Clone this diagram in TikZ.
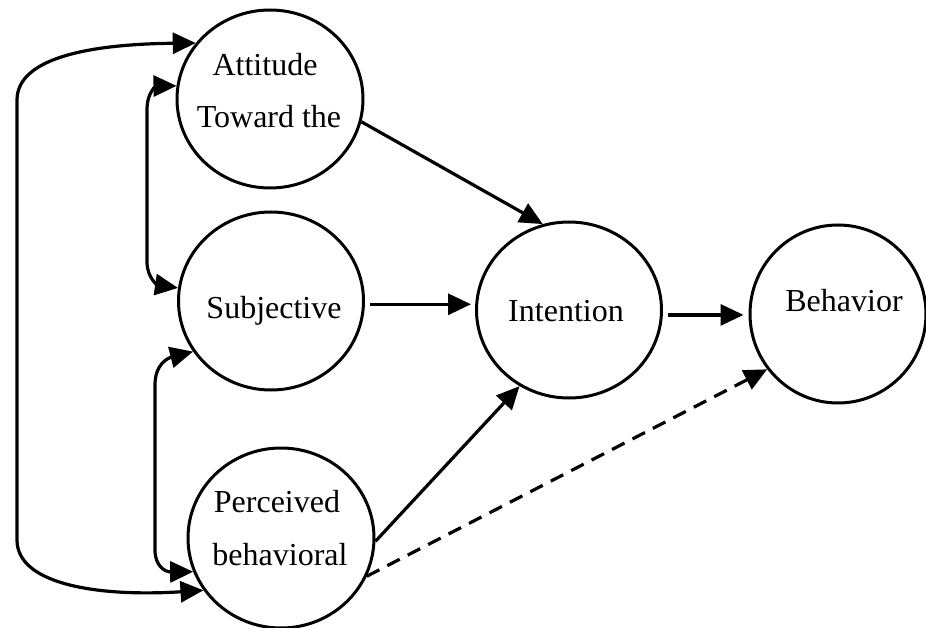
\documentclass[tikz,border=0pt]{standalone}
\usepackage{fontspec}
\setmainfont{Liberation Serif}
\usetikzlibrary{arrows.meta,shapes.geometric}
\begin{document}
\begin{tikzpicture}[x=1pt,y=-1pt,
  construct/.style={ellipse, draw, line width=3pt, inner sep=0pt},
  caption/.style={anchor=base, inner sep=0pt, font=\fontsize{32}{52}\selectfont},
  tip/.tip={Triangle[length=23pt,width=21pt]},
  link/.style={line width=3.2pt, -tip},
  twoway/.style={line width=3.2pt, tip-tip},
  weak/.style={link, dash pattern=on 14pt off 9pt},
]
\fill[white] (0,0) rectangle (926,628);
\useasboundingbox (0,0) rectangle (926,628);

% constructs
\node[construct, minimum width=186pt, minimum height=178pt] (att) at (270,99) {};
\node[construct, minimum width=185pt, minimum height=178pt] (sub) at (271,301) {};
\node[construct, minimum width=186pt, minimum height=180pt] (per) at (281,538) {};
\node[construct, minimum width=185pt, minimum height=176pt] (int) at (569,310) {};
\node[construct, minimum width=176pt, minimum height=178pt] (beh) at (838,314) {};

% their texts
\node[caption] (attA) at (265,76) {Attitude};
\node[caption] (attB) at (269,128) {Toward the};
\node[caption] (subT) at (274,318) {Subjective};
\node[caption] (perA) at (277,512) {Perceived};
\node[caption] (perB) at (280,565) {behavioral};
\node[caption] (intT) at (566,321) {Intention};
\node[caption] (behT) at (844,312) {Behavior};

% direct paths
\draw[link] (att.-14) -- (int.107);
\draw[link, shorten <=5pt, shorten >=4pt] (sub.-2) -- (sub.-2 -| int.west);
\draw[link] (per.-2) -- (int.237);
\draw[link, shorten <=5pt, shorten >=5pt] (int.-3) -- (int.-3 -| beh.west);
\draw[weak] (per.-24) -- (beh.218);

% correlations among the three antecedents
\draw[twoway] (att.143.5) .. controls (100,44) and (17,55) .. (17,100)
  -- (17,540) .. controls (17,585) and (100,597) .. (per.214);
\draw[twoway] (att.172) .. controls (158,86) and (147,90) .. (147,110)
  -- (147,262) .. controls (147,278) and (158,285) .. (sub.172);
\draw[twoway] (sub.213) .. controls (168,358) and (155,364) .. (155,385)
  -- (155,550) .. controls (155,566) and (165,572) .. (per.201);
\end{tikzpicture}
\end{document}
